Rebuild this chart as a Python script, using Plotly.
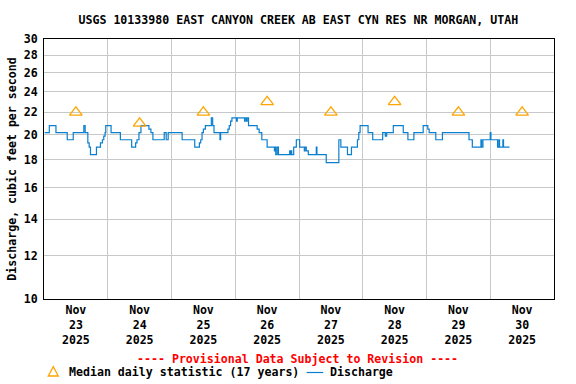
import pandas as pd
import plotly.graph_objects as go

# ---- data ----
# discharge step changes: hours since 2025-11-23 00:00, value in cfs
q_hours = [0.25, 2.0, 4.5, 8.75, 11.0, 15.0, 15.5, 16.5, 17.0, 17.5, 19.75, 21.25, 22.0, 22.5,
           23.0, 23.25, 25.25, 28.75, 33.0, 34.5, 35.0, 35.75, 36.5, 39.5, 40.25, 41.0, 45.25,
           46.0, 46.75, 52.0, 56.75, 58.5, 59.0, 59.5, 60.0, 60.75, 63.0, 63.5, 64.0, 66.25,
           66.5, 69.25, 69.75, 70.25, 70.75, 72.5, 72.75, 75.5, 75.75, 76.25, 76.5, 77.0,
           80.25, 81.0, 82.0, 84.0, 86.75, 87.0, 87.25, 87.75, 88.25, 92.5, 92.75, 93.0,
           93.25, 94.0, 95.0, 96.25, 98.0, 98.25, 98.75, 99.5, 102.5, 102.75, 106.25, 111.0,
           111.75, 114.25, 115.75, 118.0, 118.5, 119.0, 122.0, 123.75, 127.5, 128.5, 129.0,
           131.5, 135.25, 137.0, 139.25, 142.75, 144.5, 145.0, 147.5, 150.0, 160.0, 161.25,
           164.5, 164.75, 165.25, 168.0, 168.25, 170.75, 171.25, 171.5, 172.75, 173.0, 175.25]
q_values = [20.2, 20.8, 20.2, 19.6, 20.2, 20.8, 20.2, 19.35, 19.0, 18.4, 19.0, 19.35, 19.6, 19.9,
            20.2, 20.8, 20.2, 19.6, 19.0, 19.35, 19.6, 20.2, 20.8, 20.5, 20.2, 19.6, 20.2,
            19.6, 20.2, 19.6, 19.0, 19.35, 19.6, 20.2, 20.5, 20.8, 21.5, 20.8, 20.2, 19.6,
            20.2, 20.5, 20.8, 21.2, 21.5, 21.2, 21.5, 21.2, 21.5, 21.2, 21.5, 20.8,
            20.5, 20.2, 19.6, 19.0, 18.7, 19.0, 18.4, 19.0, 18.4, 18.7, 18.4, 18.7,
            18.4, 19.0, 19.6, 19.0, 18.7, 19.0, 18.7, 18.4, 19.0, 18.4, 17.8, 19.6,
            19.0, 18.4, 19.0, 19.6, 20.2, 20.8, 20.2, 19.6, 20.2, 19.9, 20.2,
            20.8, 20.2, 19.6, 20.2, 20.8, 20.5, 20.2, 19.6, 20.2, 19.6, 19.0,
            19.6, 19.0, 19.6, 20.2, 19.6, 19.0, 19.6, 19.0, 19.6, 19.0, 19.0]

median_days = ["2025-11-23 12:00", "2025-11-24 12:00", "2025-11-25 12:00", "2025-11-26 12:00",
               "2025-11-27 12:00", "2025-11-28 12:00", "2025-11-29 12:00", "2025-11-30 12:00"]
median_values = [22, 21, 22, 23, 22, 23, 22, 22]

y_ticks = [10, 12, 14, 16, 18, 20, 22, 24, 26, 28, 30]
x_tick_dates = median_days
x_tick_text = ["Nov<br>23<br>2025", "Nov<br>24<br>2025", "Nov<br>25<br>2025", "Nov<br>26<br>2025",
               "Nov<br>27<br>2025", "Nov<br>28<br>2025", "Nov<br>29<br>2025", "Nov<br>30<br>2025"]
grid_days = ["2025-11-24", "2025-11-25", "2025-11-26", "2025-11-27",
             "2025-11-28", "2025-11-29", "2025-11-30"]

base = pd.Timestamp("2025-11-23 00:00")
q_times = [base + pd.Timedelta(hours=h) for h in q_hours]

FONT = "DejaVu Sans Mono"
FS = 11.6
BLUE = "#0a7fd0"
ORANGE = "#FFA500"

fig = go.Figure()
fig.add_trace(go.Scatter(x=q_times, y=q_values, mode="lines", line=dict(color=BLUE, width=1.2, shape="hv"),
                         showlegend=False))
fig.add_trace(go.Scatter(x=pd.to_datetime(median_days), y=median_values, mode="markers",
                         marker=dict(symbol="triangle-up-open", size=11, color=ORANGE,
                                     line=dict(color=ORANGE, width=1.3)),
                         showlegend=False))

fig.update_layout(
    width=576, height=384,
    margin=dict(l=44, r=22, t=39, b=85),
    paper_bgcolor="white", plot_bgcolor="white",
    font=dict(family=FONT, size=FS, color="black", weight="bold"),
    title=dict(text="USGS 10133980 EAST CANYON CREEK AB EAST CYN RES NR MORGAN, UTAH",
               x=0.518, xanchor="center", y=1 - 20 / 384, yanchor="middle",
               font=dict(family=FONT, size=FS, color="black", weight="bold")),
    showlegend=False,
)

fig.update_xaxes(
    type="date",
    range=["2025-11-23 00:00", "2025-12-01 00:00"],
    tickmode="array", tickvals=pd.to_datetime(x_tick_dates), ticktext=x_tick_text,
    ticks="", showgrid=False,
    tickfont=dict(family=FONT, size=FS, color="black", weight="bold"),
    minor=dict(tickmode="array", tickvals=pd.to_datetime(grid_days), showgrid=True,
               gridcolor="#c8c8c8", gridwidth=1, ticks=""),
    showline=True, linecolor="black", linewidth=1, mirror=True,
    zeroline=False, automargin=False,
)
fig.update_yaxes(
    type="log",
    range=[1, 1.4771212547],
    tickmode="array", tickvals=y_ticks, ticktext=[str(v) for v in y_ticks],
    ticks="", showgrid=True, gridcolor="#c8c8c8", gridwidth=1,
    ticklabelstandoff=3,
    tickfont=dict(family=FONT, size=FS, color="black", weight="bold"),
    title=dict(text="Discharge, cubic feet per second", standoff=4,
               font=dict(family=FONT, size=FS, color="black", weight="bold")),
    showline=True, linecolor="black", linewidth=1, mirror=True,
    zeroline=False, automargin=False,
)

fig.add_annotation(text="---- Provisional Data Subject to Revision ----",
                   xref="paper", yref="paper", x=0.498, y=-0.2308,
                   xanchor="center", yanchor="middle", showarrow=False,
                   font=dict(family=FONT, size=FS, color="red", weight="bold"))
fig.add_annotation(text="Median daily statistic (17 years)",
                   xref="paper", yref="paper", x=0.046, y=-0.2808,
                   xanchor="left", yanchor="middle", showarrow=False,
                   font=dict(family=FONT, size=FS, color="black", weight="bold"))
fig.add_annotation(text="Discharge",
                   xref="paper", yref="paper", x=0.5575, y=-0.2808,
                   xanchor="left", yanchor="middle", showarrow=False,
                   font=dict(family=FONT, size=FS, color="black", weight="bold"))
fig.add_shape(type="line", xref="paper", yref="paper", x0=0.515, x1=0.5476, y0=-0.2827, y1=-0.2827,
              line=dict(color=BLUE, width=1.2))
fig.add_shape(type="path", xref="paper", yref="paper",
              path="M 0.0084,-0.2962 L 0.0182,-0.2604 L 0.0280,-0.2962 Z",
              line=dict(color=ORANGE, width=1.3))

fig.write_html("out.html", config={"displayModeBar": False},
               post_script="document.body.style.margin='0px';")
